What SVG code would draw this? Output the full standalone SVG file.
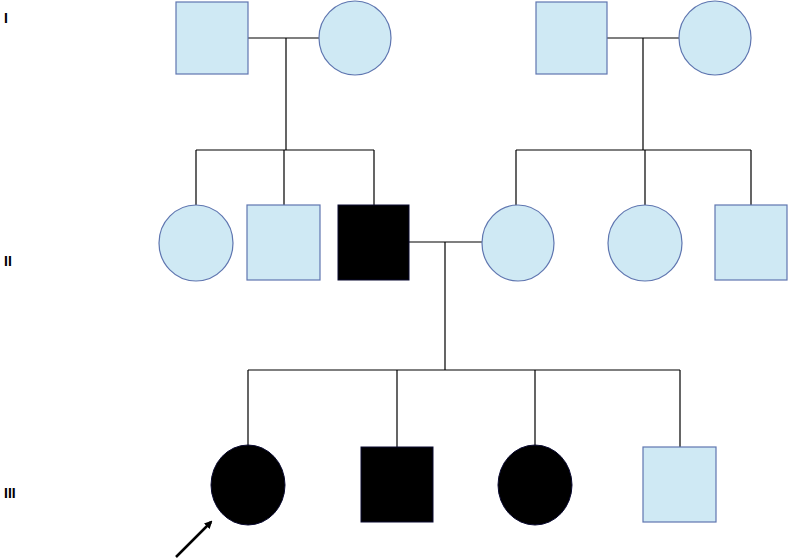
<svg xmlns="http://www.w3.org/2000/svg" width="788" height="560" viewBox="0 0 788 560">
<style>
.u{fill:#cfe9f4;stroke:#5f76b0;stroke-width:1.2}
.a{fill:#000;stroke:#0a0a30;stroke-width:1}
.l{stroke:#000;stroke-width:1.2;fill:none}
.t{font-family:"Liberation Sans",Arial,sans-serif;font-size:14px;font-weight:bold;fill:#000}
</style>
<defs><marker id="ah" markerWidth="8" markerHeight="8" refX="6" refY="4" orient="auto" markerUnits="userSpaceOnUse"><path d="M0,0 L8,4 L0,8 z" fill="#000"/></marker></defs>
<rect width="788" height="560" fill="#fff"/>
<text class="t" x="4" y="23">I</text>
<text class="t" x="4" y="266">II</text>
<text class="t" x="4" y="498">III</text>
<g id="connectors">
<path class="l" d="M248,38H319M286,38V150M196,150H374M196,150V205M284,150V205M374,150V205"/>
<path class="l" d="M607,38H679M643,38V150M516,150H751M516,150V205M645,150V205M751,150V205"/>
<path class="l" d="M409,242H482M445,242V370M248,370H680M248,370V445M397,370V447M535,370V445M680,370V447"/>
<line x1="176" y1="557" x2="211" y2="522" stroke="#000" stroke-width="2.5" marker-end="url(#ah)"/>
</g>
<g id="I1"><rect class="u" x="176" y="2" width="72" height="72"/></g>
<g id="I2"><ellipse class="u" cx="355" cy="38" rx="36" ry="37"/></g>
<g id="I3"><rect class="u" x="536" y="2" width="71" height="72"/></g>
<g id="I4"><ellipse class="u" cx="715" cy="38" rx="36" ry="37"/></g>
<g id="II1"><ellipse class="u" cx="196" cy="243" rx="37" ry="38"/></g>
<g id="II2"><rect class="u" x="247" y="205" width="73" height="75"/></g>
<g id="II3"><rect class="a" x="338" y="205" width="71" height="75"/></g>
<g id="II4"><ellipse class="u" cx="518" cy="243" rx="36" ry="38"/></g>
<g id="II5"><ellipse class="u" cx="645" cy="243" rx="37" ry="38"/></g>
<g id="II6"><rect class="u" x="715" y="205" width="72" height="75"/></g>
<g id="III1"><ellipse class="a" cx="248" cy="485" rx="37" ry="40"/></g>
<g id="III2"><rect class="a" x="361" y="447" width="72" height="75"/></g>
<g id="III3"><ellipse class="a" cx="535" cy="485" rx="37" ry="40"/></g>
<g id="III4"><rect class="u" x="643" y="447" width="73" height="75"/></g>
</svg>
